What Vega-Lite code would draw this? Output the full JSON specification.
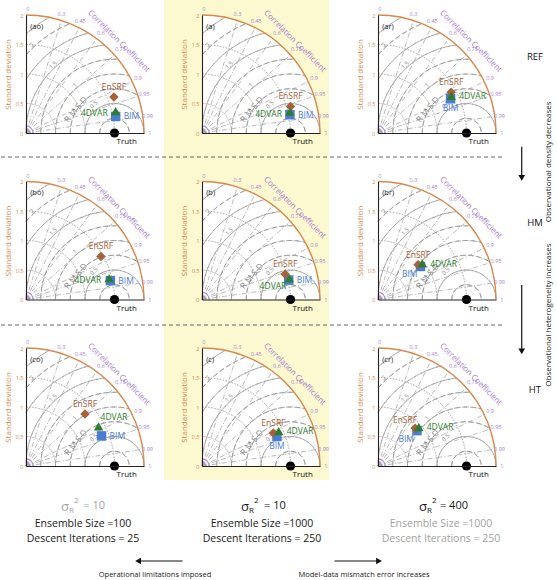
{
  "$schema": "https://vega.github.io/schema/vega-lite/v6.json",
  "padding": 0,
  "background": "white",
  "config": {"font": "Open Sans", "view": {"stroke": null}, "header": {"labels": false, "title": null}},
  "data": {"values": [
    {"k": "bg", "p": ["a"], "x": -0.644, "x2": 2.153, "y": 2.254, "y2": -5.88},
    {"k": "sep", "p": ["a"], "x": -3.407, "x2": 5.1, "y": -0.407},
    {"k": "sep", "p": ["a"], "x": -3.407, "x2": 5.1, "y": -3.254},
    {"k": "disk", "p": ["ao","a","ar","bo","b","br","co","c","cr"], "x": 0, "y": 0, "r": 2, "t0": 0, "t1": 90},
    {"k": "sd", "p": ["ao","a","ar","bo","b","br","co","c","cr"], "x": 0, "y": 0, "r": 0.5, "t0": 0, "t1": 90},
    {"k": "sd", "p": ["ao","a","ar","bo","b","br","co","c","cr"], "x": 0, "y": 0, "r": 1, "t0": 0, "t1": 90},
    {"k": "sd", "p": ["ao","a","ar","bo","b","br","co","c","cr"], "x": 0, "y": 0, "r": 1.5, "t0": 0, "t1": 90},
    {"k": "rms", "p": ["ao","a","ar","bo","b","br","co","c","cr"], "x": 1.5, "y": 0, "r": 0.25, "t0": -90, "t1": 90},
    {"k": "rms", "p": ["ao","a","ar","bo","b","br","co","c","cr"], "x": 1.5, "y": 0, "r": 0.5, "t0": -90, "t1": 90},
    {"k": "rms", "p": ["ao","a","ar","bo","b","br","co","c","cr"], "x": 1.5, "y": 0, "r": 0.75, "t0": -90, "t1": 31.86},
    {"k": "rms", "p": ["ao","a","ar","bo","b","br","co","c","cr"], "x": 1.5, "y": 0, "r": 1, "t0": -90, "t1": 14.48},
    {"k": "rms", "p": ["ao","a","ar","bo","b","br","co","c","cr"], "x": 1.5, "y": 0, "r": 1.25, "t0": -90, "t1": 2.87},
    {"k": "rms", "p": ["ao","a","ar","bo","b","br","co","c","cr"], "x": 1.5, "y": 0, "r": 1.5, "t0": -90, "t1": -6.38},
    {"k": "rms", "p": ["ao","a","ar","bo","b","br","co","c","cr"], "x": 1.5, "y": 0, "r": 1.75, "t0": -58.99, "t1": -14.48},
    {"k": "rms", "p": ["ao","a","ar","bo","b","br","co","c","cr"], "x": 1.5, "y": 0, "r": 2, "t0": -48.59, "t1": -22.02},
    {"k": "rms", "p": ["ao","a","ar","bo","b","br","co","c","cr"], "x": 1.5, "y": 0, "r": 2.25, "t0": -41.81, "t1": -29.39},
    {"k": "cor", "p": ["ao","a","ar","bo","b","br","co","c","cr"], "x": 0, "y": 0, "x2": 0.6, "y2": 1.9079},
    {"k": "cor", "p": ["ao","a","ar","bo","b","br","co","c","cr"], "x": 0, "y": 0, "x2": 0.9, "y2": 1.7861},
    {"k": "cor", "p": ["ao","a","ar","bo","b","br","co","c","cr"], "x": 0, "y": 0, "x2": 1.2, "y2": 1.6},
    {"k": "cor", "p": ["ao","a","ar","bo","b","br","co","c","cr"], "x": 0, "y": 0, "x2": 1.5, "y2": 1.3229},
    {"k": "cor", "p": ["ao","a","ar","bo","b","br","co","c","cr"], "x": 0, "y": 0, "x2": 1.8, "y2": 0.8718},
    {"k": "cor", "p": ["ao","a","ar","bo","b","br","co","c","cr"], "x": 0, "y": 0, "x2": 1.9, "y2": 0.6245},
    {"k": "cor", "p": ["ao","a","ar","bo","b","br","co","c","cr"], "x": 0, "y": 0, "x2": 1.98, "y2": 0.2821},
    {"k": "pur", "p": ["ao","a","ar","bo","b","br","co","c","cr"], "x": 0, "y": 0, "r": 0.06, "t0": 0, "t1": 90},
    {"k": "pur", "p": ["ao","a","ar","bo","b","br","co","c","cr"], "x": 0, "y": 0, "r": 0.12, "t0": 0, "t1": 90},
    {"k": "rim", "p": ["ao","a","ar","bo","b","br","co","c","cr"], "x": 0, "y": 0, "r": 2, "t0": 0, "t1": 90},
    {"k": "cl", "p": ["ao","a","ar","bo","b","br","co","c","cr"], "x": 0.03, "y": 2.1, "t": "0"},
    {"k": "cl", "p": ["ao","a","ar","bo","b","br","co","c","cr"], "x": 0.6, "y": 2.02, "t": "0.3"},
    {"k": "cl", "p": ["ao","a","ar","bo","b","br","co","c","cr"], "x": 0.92, "y": 1.9, "t": "0.45"},
    {"k": "cl", "p": ["ao","a","ar","bo","b","br","co","c","cr"], "x": 1.27, "y": 1.7, "t": "0.6"},
    {"k": "cl", "p": ["ao","a","ar","bo","b","br","co","c","cr"], "x": 1.6, "y": 1.42, "t": "0.75"},
    {"k": "cl", "p": ["ao","a","ar","bo","b","br","co","c","cr"], "x": 1.9, "y": 0.93, "t": "0.9"},
    {"k": "cl", "p": ["ao","a","ar","bo","b","br","co","c","cr"], "x": 2.0, "y": 0.66, "t": "0.95"},
    {"k": "cl", "p": ["ao","a","ar","bo","b","br","co","c","cr"], "x": 2.06, "y": 0.29, "t": "0.99"},
    {"k": "cl", "p": ["ao","a","ar","bo","b","br","co","c","cr"], "x": 2.1, "y": 0.0, "t": "1"},
    {"k": "rl", "p": ["ao","a","ar","bo","b","br","co","c","cr"], "x": 1.15, "y": 0.48, "t": "0.5"},
    {"k": "rl", "p": ["ao","a","ar","bo","b","br","co","c","cr"], "x": 0.83, "y": 0.81, "t": "1"},
    {"k": "rl", "p": ["ao","a","ar","bo","b","br","co","c","cr"], "x": 0.46, "y": 1.15, "t": "1.5"},
    {"k": "rl", "p": ["ao","a","ar","bo","b","br","co","c","cr"], "x": 0.1, "y": 1.5, "t": "2"},
    {"k": "cc", "p": ["ao","a","ar","bo","b","br","co","c","cr"], "x": 1.57, "y": 1.55, "t": "Correlation Coefficient"},
    {"k": "rm", "p": ["ao","a","ar","bo","b","br","co","c","cr"], "x": 0.84, "y": 0.4, "t": "R M S D"},
    {"k": "truth", "p": ["ao","a","ar","bo","b","br","co","c","cr"], "x": 1.5, "y": 0, "t": "Truth"},
    {"k": "pl", "p": ["ao"], "x": 0.07, "y": 1.8, "t": "(ao)"},
    {"k": "pl", "p": ["a"], "x": 0.07, "y": 1.8, "t": "(a)"},
    {"k": "pl", "p": ["ar"], "x": 0.07, "y": 1.8, "t": "(ar)"},
    {"k": "pl", "p": ["bo"], "x": 0.07, "y": 1.8, "t": "(bo)"},
    {"k": "pl", "p": ["b"], "x": 0.07, "y": 1.8, "t": "(b)"},
    {"k": "pl", "p": ["br"], "x": 0.07, "y": 1.8, "t": "(br)"},
    {"k": "pl", "p": ["co"], "x": 0.07, "y": 1.8, "t": "(co)"},
    {"k": "pl", "p": ["c"], "x": 0.07, "y": 1.8, "t": "(c)"},
    {"k": "pl", "p": ["cr"], "x": 0.07, "y": 1.8, "t": "(cr)"},
    {"k": "m", "p": ["ao"], "m": "BIM", "x": 1.52, "y": 0.28, "side": "right"},
    {"k": "m", "p": ["ao"], "m": "EnSRF", "x": 1.49, "y": 0.61, "side": "above"},
    {"k": "m", "p": ["ao"], "m": "4DVAR", "x": 1.52, "y": 0.37, "side": "left"},
    {"k": "m", "p": ["a"], "m": "BIM", "x": 1.49, "y": 0.31, "side": "right"},
    {"k": "m", "p": ["a"], "m": "EnSRF", "x": 1.5, "y": 0.45, "side": "above"},
    {"k": "m", "p": ["a"], "m": "4DVAR", "x": 1.49, "y": 0.36, "side": "left"},
    {"k": "m", "p": ["ar"], "m": "BIM", "x": 1.23, "y": 0.58, "side": "below"},
    {"k": "m", "p": ["ar"], "m": "EnSRF", "x": 1.24, "y": 0.69, "side": "above"},
    {"k": "m", "p": ["ar"], "m": "4DVAR", "x": 1.24, "y": 0.63, "side": "right"},
    {"k": "m", "p": ["bo"], "m": "BIM", "x": 1.43, "y": 0.32, "side": "right"},
    {"k": "m", "p": ["bo"], "m": "EnSRF", "x": 1.27, "y": 0.73, "side": "above"},
    {"k": "m", "p": ["bo"], "m": "4DVAR", "x": 1.41, "y": 0.36, "side": "left"},
    {"k": "m", "p": ["b"], "m": "BIM", "x": 1.47, "y": 0.33, "side": "right"},
    {"k": "m", "p": ["b"], "m": "EnSRF", "x": 1.41, "y": 0.43, "side": "above"},
    {"k": "m", "p": ["b"], "m": "4DVAR", "x": 1.48, "y": 0.36, "side": "belowleft"},
    {"k": "m", "p": ["br"], "m": "BIM", "x": 0.72, "y": 0.56, "side": "belowleft"},
    {"k": "m", "p": ["br"], "m": "EnSRF", "x": 0.68, "y": 0.59, "side": "above"},
    {"k": "m", "p": ["br"], "m": "4DVAR", "x": 0.75, "y": 0.61, "side": "right"},
    {"k": "m", "p": ["co"], "m": "BIM", "x": 1.28, "y": 0.51, "side": "right"},
    {"k": "m", "p": ["co"], "m": "EnSRF", "x": 1.0, "y": 0.88, "side": "above"},
    {"k": "m", "p": ["co"], "m": "4DVAR", "x": 1.23, "y": 0.67, "side": "aboveright"},
    {"k": "m", "p": ["c"], "m": "BIM", "x": 1.27, "y": 0.5, "side": "below"},
    {"k": "m", "p": ["c"], "m": "EnSRF", "x": 1.21, "y": 0.56, "side": "above"},
    {"k": "m", "p": ["c"], "m": "4DVAR", "x": 1.3, "y": 0.59, "side": "right"},
    {"k": "m", "p": ["cr"], "m": "BIM", "x": 0.66, "y": 0.6, "side": "belowleft"},
    {"k": "m", "p": ["cr"], "m": "EnSRF", "x": 0.63, "y": 0.64, "side": "aboveleft"},
    {"k": "m", "p": ["cr"], "m": "4DVAR", "x": 0.69, "y": 0.66, "side": "right"},
    {"k": "row", "p": ["ar"], "x": 2.66, "y": 1.29, "t": "REF"},
    {"k": "row", "p": ["br"], "x": 2.66, "y": 1.29, "t": "HM"},
    {"k": "row", "p": ["cr"], "x": 2.66, "y": 1.29, "t": "HT"},
    {"k": "arr", "p": ["ar"], "x": 2.436, "x2": 2.436, "y": -0.232, "y2": -0.72},
    {"k": "ahd", "p": ["ar"], "x": 2.436, "y": -0.76},
    {"k": "arr", "p": ["br"], "x": 2.436, "x2": 2.436, "y": 0.246, "y2": -0.84},
    {"k": "ahd", "p": ["br"], "x": 2.436, "y": -0.88},
    {"k": "vt", "p": ["ar"], "x": 2.9, "y": -0.49, "t": "Observational density decreases"},
    {"k": "vt", "p": ["br"], "x": 2.9, "y": -0.263, "t": "Observational heterogeneity increases"},
    {"k": "sig", "p": ["co"], "x": 0.729, "y": -0.695, "t": "σ", "muted": true},
    {"k": "sub", "p": ["co"], "x": 0.729, "y": -0.763, "t": "R", "muted": true},
    {"k": "sup", "p": ["co"], "x": 0.814, "y": -0.585, "t": "2", "muted": true},
    {"k": "eq", "p": ["co"], "x": 0.971, "y": -0.678, "t": "= 10", "muted": true},
    {"k": "bt", "p": ["co"], "x": 0.966, "y": -0.983, "t": "Ensemble Size =100", "muted": false},
    {"k": "bt", "p": ["co"], "x": 0.966, "y": -1.237, "t": "Descent Iterations = 25", "muted": false},
    {"k": "sig", "p": ["c"], "x": 0.797, "y": -0.695, "t": "σ", "muted": false},
    {"k": "sub", "p": ["c"], "x": 0.797, "y": -0.763, "t": "R", "muted": false},
    {"k": "sup", "p": ["c"], "x": 0.881, "y": -0.585, "t": "2", "muted": false},
    {"k": "eq", "p": ["c"], "x": 1.051, "y": -0.678, "t": "= 10", "muted": false},
    {"k": "bt", "p": ["c"], "x": 1.017, "y": -0.983, "t": "Ensemble Size =1000", "muted": false},
    {"k": "bt", "p": ["c"], "x": 1.017, "y": -1.237, "t": "Descent Iterations = 250", "muted": false},
    {"k": "sig", "p": ["cr"], "x": 0.83, "y": -0.695, "t": "σ", "muted": false},
    {"k": "sub", "p": ["cr"], "x": 0.83, "y": -0.763, "t": "R", "muted": false},
    {"k": "sup", "p": ["cr"], "x": 0.915, "y": -0.585, "t": "2", "muted": false},
    {"k": "eq", "p": ["cr"], "x": 1.05, "y": -0.678, "t": "= 400", "muted": false},
    {"k": "bt", "p": ["cr"], "x": 1.068, "y": -0.983, "t": "Ensemble Size =1000", "muted": true},
    {"k": "bt", "p": ["cr"], "x": 1.068, "y": -1.237, "t": "Descent Iterations = 250", "muted": true},
    {"k": "arr", "p": ["co"], "x": 1.9, "x2": 2.653, "y": -1.61, "y2": -1.61},
    {"k": "ahl", "p": ["co"], "x": 1.9, "y": -1.61},
    {"k": "arr", "p": ["c"], "x": 2.247, "x2": 3.0, "y": -1.61, "y2": -1.61},
    {"k": "ahr", "p": ["c"], "x": 3.0, "y": -1.61},
    {"k": "cap", "p": ["co"], "x": 2.186, "y": -1.847, "t": "Operational limitations imposed"},
    {"k": "cap", "p": ["c"], "x": 2.746, "y": -1.847, "t": "Model-data mismatch error increases"}
  ]},
  "transform": [
    {"flatten": ["p"]},
    {"lookup": "p", "from": {"data": {"values": [
      {"p": "ao", "row": 0, "col": 0}, {"p": "a", "row": 0, "col": 1}, {"p": "ar", "row": 0, "col": 2},
      {"p": "bo", "row": 1, "col": 0}, {"p": "b", "row": 1, "col": 1}, {"p": "br", "row": 1, "col": 2},
      {"p": "co", "row": 2, "col": 0}, {"p": "c", "row": 2, "col": 1}, {"p": "cr", "row": 2, "col": 2}
    ]}, "key": "p", "fields": ["row", "col"]}}
  ],
  "facet": {
    "row": {"field": "row", "type": "ordinal", "title": null, "header": null},
    "column": {"field": "col", "type": "ordinal", "title": null, "header": null}
  },
  "spacing": {"row": 48.5, "column": 58},
  "bounds": "flush",
  "resolve": {"axis": {"x": "independent", "y": "independent"}},
  "spec": {
    "width": 118,
    "height": 118,
    "encoding": {
      "x": {"field": "x", "type": "quantitative", "scale": {"domain": [0, 2], "nice": false},
            "axis": {"title": null, "labels": false, "ticks": false, "grid": false, "domainColor": "#222", "domainWidth": 1.1, "zindex": 1}},
      "y": {"field": "y", "type": "quantitative", "scale": {"domain": [0, 2], "nice": false},
            "axis": {"title": "Standard deviation", "values": [0, 0.5, 1, 1.5, 2], "format": "~g", "ticks": false, "grid": false, "labelFlush": false,
                     "labelColor": "#d88b52", "labelFontSize": 5.5, "labelPadding": 3,
                     "titleColor": "#d88b52", "titleFontSize": 8, "titleFontWeight": "normal", "titlePadding": 3,
                     "domainColor": "#222", "domainWidth": 1.1, "zindex": 1}}
    },
    "layer": [
      {"transform": [{"filter": "datum.k === 'bg'"}], "mark": {"type": "rect", "fill": "#fcf8cf"},
       "encoding": {"x2": {"field": "x2"}, "y2": {"field": "y2"}}},
      {"transform": [{"filter": "datum.k === 'sep'"}], "mark": {"type": "rule", "stroke": "#666", "strokeWidth": 1, "strokeDash": [4, 3]},
       "encoding": {"x2": {"field": "x2"}}},
      {"transform": [{"filter": "datum.k === 'disk'"}], "mark": {"type": "arc", "fill": "white"},
       "encoding": {
         "theta": {"field": "t0", "type": "quantitative", "stack": null, "scale": {"domain": [0, 90], "range": [0, 1.5707963]}},
         "theta2": {"field": "t1"},
         "radius": {"field": "r", "type": "quantitative", "scale": {"type": "linear", "domain": [0, 2], "range": [0, 118]}}}},
      {"transform": [{"filter": "datum.k === 'sd'"}], "mark": {"type": "arc", "filled": false, "stroke": "#9d9d9d", "strokeWidth": 0.8, "strokeDash": [1, 2]},
       "encoding": {
         "theta": {"field": "t0", "type": "quantitative", "stack": null, "scale": {"domain": [0, 90], "range": [0, 1.5707963]}},
         "theta2": {"field": "t1"},
         "radius": {"field": "r", "type": "quantitative", "scale": {"type": "linear", "domain": [0, 2], "range": [0, 118]}},
         "radius2": {"field": "r"}}},
      {"transform": [{"filter": "datum.k === 'rms'"}], "mark": {"type": "arc", "filled": false, "stroke": "#a0a0a0", "strokeWidth": 0.9, "strokeDash": [5, 3]},
       "encoding": {
         "theta": {"field": "t0", "type": "quantitative", "stack": null, "scale": {"domain": [0, 90], "range": [0, 1.5707963]}},
         "theta2": {"field": "t1"},
         "radius": {"field": "r", "type": "quantitative", "scale": {"type": "linear", "domain": [0, 2], "range": [0, 118]}},
         "radius2": {"field": "r"}}},
      {"transform": [{"filter": "datum.k === 'cor'"}], "mark": {"type": "rule", "stroke": "#aaaaaa", "strokeWidth": 0.8, "strokeDash": [5, 2, 1, 2]},
       "encoding": {"x2": {"field": "x2"}, "y2": {"field": "y2"}}},
      {"transform": [{"filter": "datum.k === 'pur'"}], "mark": {"type": "arc", "filled": false, "stroke": "#b487d9", "strokeWidth": 0.8},
       "encoding": {
         "theta": {"field": "t0", "type": "quantitative", "stack": null, "scale": {"domain": [0, 90], "range": [0, 1.5707963]}},
         "theta2": {"field": "t1"},
         "radius": {"field": "r", "type": "quantitative", "scale": {"type": "linear", "domain": [0, 2], "range": [0, 118]}},
         "radius2": {"field": "r"}}},
      {"transform": [{"filter": "datum.k === 'rim'"}], "mark": {"type": "arc", "filled": false, "stroke": "#d9874a", "strokeWidth": 1.4},
       "encoding": {
         "theta": {"field": "t0", "type": "quantitative", "stack": null, "scale": {"domain": [0, 90], "range": [0, 1.5707963]}},
         "theta2": {"field": "t1"},
         "radius": {"field": "r", "type": "quantitative", "scale": {"type": "linear", "domain": [0, 2], "range": [0, 118]}},
         "radius2": {"field": "r"}}},
      {"transform": [{"filter": "datum.k === 'cl'"}], "mark": {"type": "text", "fill": "#a97dd1", "fontSize": 5.5},
       "encoding": {"text": {"field": "t"}}},
      {"transform": [{"filter": "datum.k === 'rl'"}], "mark": {"type": "text", "fill": "#8d8d8d", "fontSize": 6, "angle": 315},
       "encoding": {"text": {"field": "t"}}},
      {"transform": [{"filter": "datum.k === 'cc'"}], "mark": {"type": "text", "fill": "#a97dd1", "fontSize": 8, "angle": 45},
       "encoding": {"text": {"field": "t"}}},
      {"transform": [{"filter": "datum.k === 'rm'"}], "mark": {"type": "text", "fill": "#858585", "fontSize": 8.5, "angle": 310},
       "encoding": {"text": {"field": "t"}}},
      {"transform": [{"filter": "datum.k === 'pl'"}], "mark": {"type": "text", "fill": "#222", "fontSize": 7.5, "align": "left"},
       "encoding": {"text": {"field": "t"}}},
      {"transform": [{"filter": "datum.k === 'truth'"}], "mark": {"type": "point", "filled": true, "fill": "black", "size": 85, "opacity": 1},
       "encoding": {}},
      {"transform": [{"filter": "datum.k === 'truth'"}], "mark": {"type": "text", "fill": "#111", "fontSize": 8, "align": "left", "baseline": "middle", "dx": 2, "dy": 9},
       "encoding": {"text": {"field": "t"}}},
      {"transform": [{"filter": "datum.k === 'm'"}], "mark": {"type": "point", "filled": true, "size": 90, "opacity": 1},
       "encoding": {
         "color": {"field": "m", "type": "nominal", "legend": null, "scale": {"domain": ["EnSRF", "4DVAR", "BIM"], "range": ["#a8603a", "#2e7d2e", "#4a7dd4"]}},
         "shape": {"field": "m", "type": "nominal", "legend": null, "scale": {"domain": ["EnSRF", "4DVAR", "BIM"], "range": ["diamond", "triangle-up", "square"]}}}},
      {"transform": [{"filter": "datum.k === 'm' && datum.side === 'above'"}], "mark": {"type": "text", "fontSize": 8.5, "align": "center", "baseline": "bottom", "dy": -5},
       "encoding": {"text": {"field": "m"}, "color": {"field": "m", "type": "nominal", "legend": null, "scale": {"domain": ["EnSRF", "4DVAR", "BIM"], "range": ["#a8603a", "#2e7d2e", "#4a7dd4"]}}}},
      {"transform": [{"filter": "datum.k === 'm' && datum.side === 'left'"}], "mark": {"type": "text", "fontSize": 8.5, "align": "right", "baseline": "middle", "dx": -8, "dy": 2},
       "encoding": {"text": {"field": "m"}, "color": {"field": "m", "type": "nominal", "legend": null, "scale": {"domain": ["EnSRF", "4DVAR", "BIM"], "range": ["#a8603a", "#2e7d2e", "#4a7dd4"]}}}},
      {"transform": [{"filter": "datum.k === 'm' && datum.side === 'right'"}], "mark": {"type": "text", "fontSize": 8.5, "align": "left", "baseline": "middle", "dx": 8},
       "encoding": {"text": {"field": "m"}, "color": {"field": "m", "type": "nominal", "legend": null, "scale": {"domain": ["EnSRF", "4DVAR", "BIM"], "range": ["#a8603a", "#2e7d2e", "#4a7dd4"]}}}},
      {"transform": [{"filter": "datum.k === 'm' && datum.side === 'below'"}], "mark": {"type": "text", "fontSize": 8.5, "align": "center", "baseline": "top", "dy": 5},
       "encoding": {"text": {"field": "m"}, "color": {"field": "m", "type": "nominal", "legend": null, "scale": {"domain": ["EnSRF", "4DVAR", "BIM"], "range": ["#a8603a", "#2e7d2e", "#4a7dd4"]}}}},
      {"transform": [{"filter": "datum.k === 'm' && datum.side === 'belowleft'"}], "mark": {"type": "text", "fontSize": 8.5, "align": "right", "baseline": "top", "dx": -3, "dy": 4},
       "encoding": {"text": {"field": "m"}, "color": {"field": "m", "type": "nominal", "legend": null, "scale": {"domain": ["EnSRF", "4DVAR", "BIM"], "range": ["#a8603a", "#2e7d2e", "#4a7dd4"]}}}},
      {"transform": [{"filter": "datum.k === 'm' && datum.side === 'aboveleft'"}], "mark": {"type": "text", "fontSize": 8.5, "align": "right", "baseline": "bottom", "dx": 2, "dy": -3},
       "encoding": {"text": {"field": "m"}, "color": {"field": "m", "type": "nominal", "legend": null, "scale": {"domain": ["EnSRF", "4DVAR", "BIM"], "range": ["#a8603a", "#2e7d2e", "#4a7dd4"]}}}},
      {"transform": [{"filter": "datum.k === 'm' && datum.side === 'aboveright'"}], "mark": {"type": "text", "fontSize": 8.5, "align": "left", "baseline": "bottom", "dx": 2, "dy": -4},
       "encoding": {"text": {"field": "m"}, "color": {"field": "m", "type": "nominal", "legend": null, "scale": {"domain": ["EnSRF", "4DVAR", "BIM"], "range": ["#a8603a", "#2e7d2e", "#4a7dd4"]}}}},
      {"transform": [{"filter": "datum.k === 'row'"}], "mark": {"type": "text", "fill": "#111", "fontSize": 9.5},
       "encoding": {"text": {"field": "t"}}},
      {"transform": [{"filter": "datum.k === 'vt'"}], "mark": {"type": "text", "fill": "#222", "fontSize": 8, "angle": 270},
       "encoding": {"text": {"field": "t"}}},
      {"transform": [{"filter": "datum.k === 'arr'"}], "mark": {"type": "rule", "stroke": "#111", "strokeWidth": 1.2},
       "encoding": {"x2": {"field": "x2"}, "y2": {"field": "y2"}}},
      {"transform": [{"filter": "datum.k === 'ahl'"}], "mark": {"type": "point", "shape": "triangle-left", "filled": true, "fill": "#111", "size": 45, "opacity": 1},
       "encoding": {}},
      {"transform": [{"filter": "datum.k === 'ahr'"}], "mark": {"type": "point", "shape": "triangle-right", "filled": true, "fill": "#111", "size": 45, "opacity": 1},
       "encoding": {}},
      {"transform": [{"filter": "datum.k === 'ahd'"}], "mark": {"type": "point", "shape": "triangle-down", "filled": true, "fill": "#111", "size": 45, "opacity": 1},
       "encoding": {}},
      {"transform": [{"filter": "datum.k === 'sig'"}], "mark": {"type": "text", "fontSize": 13, "align": "right", "baseline": "middle"},
       "encoding": {"text": {"field": "t"}, "color": {"condition": {"test": "datum.muted", "value": "#a3a3a3"}, "value": "#1a1a1a"}}},
      {"transform": [{"filter": "datum.k === 'sub' || datum.k === 'sup'"}], "mark": {"type": "text", "fontSize": 8, "align": "left", "baseline": "middle"},
       "encoding": {"text": {"field": "t"}, "color": {"condition": {"test": "datum.muted", "value": "#a3a3a3"}, "value": "#1a1a1a"}}},
      {"transform": [{"filter": "datum.k === 'eq'"}], "mark": {"type": "text", "fontSize": 11, "align": "left", "baseline": "middle"},
       "encoding": {"text": {"field": "t"}, "color": {"condition": {"test": "datum.muted", "value": "#a3a3a3"}, "value": "#1a1a1a"}}},
      {"transform": [{"filter": "datum.k === 'bt'"}], "mark": {"type": "text", "fontSize": 10.5, "align": "center", "baseline": "middle"},
       "encoding": {"text": {"field": "t"}, "color": {"condition": {"test": "datum.muted", "value": "#a3a3a3"}, "value": "#1a1a1a"}}},
      {"transform": [{"filter": "datum.k === 'cap'"}], "mark": {"type": "text", "fill": "#222", "fontSize": 7.5, "align": "center", "baseline": "middle"},
       "encoding": {"text": {"field": "t"}}}
    ]
  }
}
